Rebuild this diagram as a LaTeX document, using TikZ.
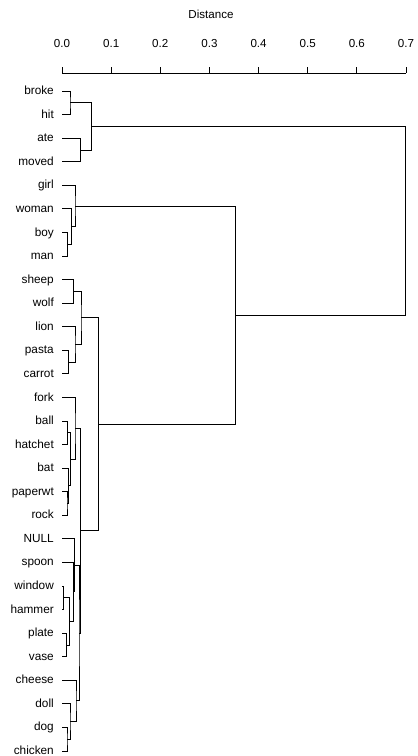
\documentclass[tikz,border=0pt]{standalone}
\usepackage{fontspec}
\setmainfont{Liberation Sans}
\usetikzlibrary{calc}
\newcommand\dmerge[4]{%
  \path let \p1=(#2), \p2=(#3) in coordinate (#1) at (#4,{0.5*(\y1+\y2)});
  \draw[tree] (#2) -| (#1) |- (#3);}
\begin{document}
\begin{tikzpicture}[x=1pt,y=1pt,
  tree/.style={draw=black, line width=0.75pt},
  lab/.style={anchor=base east, inner sep=0pt, font=\fontsize{11.8}{13}\selectfont},
  ticklab/.style={anchor=base, inner sep=0pt, font=\fontsize{11.6}{13}\selectfont}]
\useasboundingbox (0,0) rectangle (418,756);
% title and axis
\node[ticklab] (title) at (211,737) {Distance};
\coordinate (ax0) at (62,683);
\coordinate (ax7) at (406,683);
\draw[tree] (ax0) -- (ax7);
\foreach \v [count=\i from 0] in {0.0,0.1,0.2,0.3,0.4,0.5,0.6,0.7} {
  \coordinate (tk\i) at ({62+49.143*\i},683);
  \draw[tree] (tk\i) -- ++(0,6);
  \node[ticklab] (tl\i) at ({62+49.143*\i},708) {\v};
}
% leaves
\foreach \n [count=\i from 0] in {broke,hit,ate,moved,girl,woman,boy,man,sheep,wolf,lion,pasta,carrot,fork,ball,hatchet,bat,paperwt,rock,NULL,spoon,window,hammer,plate,vase,cheese,doll,dog,chicken} {
  \coordinate (\n) at (62,{665-23.57*\i});
  \node[lab] (lbl-\n) at (54,{665-23.57*\i-3.6}) {\n};
}
% merges
\dmerge{m1}{broke}{hit}{70}
\dmerge{m2}{ate}{moved}{80.7}
\dmerge{m3}{m1}{m2}{91.5}
\dmerge{m4}{boy}{man}{67.3}
\dmerge{m5}{woman}{m4}{71.7}
\dmerge{m6}{girl}{m5}{75}
\dmerge{m7}{sheep}{wolf}{73.3}
\dmerge{m8}{pasta}{carrot}{68.3}
\dmerge{m9}{lion}{m8}{75}
\dmerge{m10}{m7}{m9}{81}
\dmerge{m11}{ball}{hatchet}{67.3}
\dmerge{m12}{paperwt}{rock}{67}
\dmerge{m13}{bat}{m12}{68.3}
\dmerge{m14}{m11}{m13}{70.7}
\dmerge{m15}{fork}{m14}{75}
\dmerge{m16}{window}{hammer}{63.3}
\dmerge{m17}{plate}{vase}{66.7}
\dmerge{m18}{m16}{m17}{69.7}
\dmerge{m19}{spoon}{m18}{73.3}
\dmerge{m20}{NULL}{m19}{74.8}
\dmerge{m21}{dog}{chicken}{67}
\dmerge{m22}{doll}{m21}{70}
\dmerge{m23}{cheese}{m22}{76}
\dmerge{m24}{m20}{m23}{79}
\dmerge{m25}{m15}{m24}{80.7}
\dmerge{m26}{m10}{m25}{98.3}
\dmerge{m27}{m6}{m26}{235.7}
\dmerge{m28}{m3}{m27}{405.7}
\end{tikzpicture}
\end{document}
